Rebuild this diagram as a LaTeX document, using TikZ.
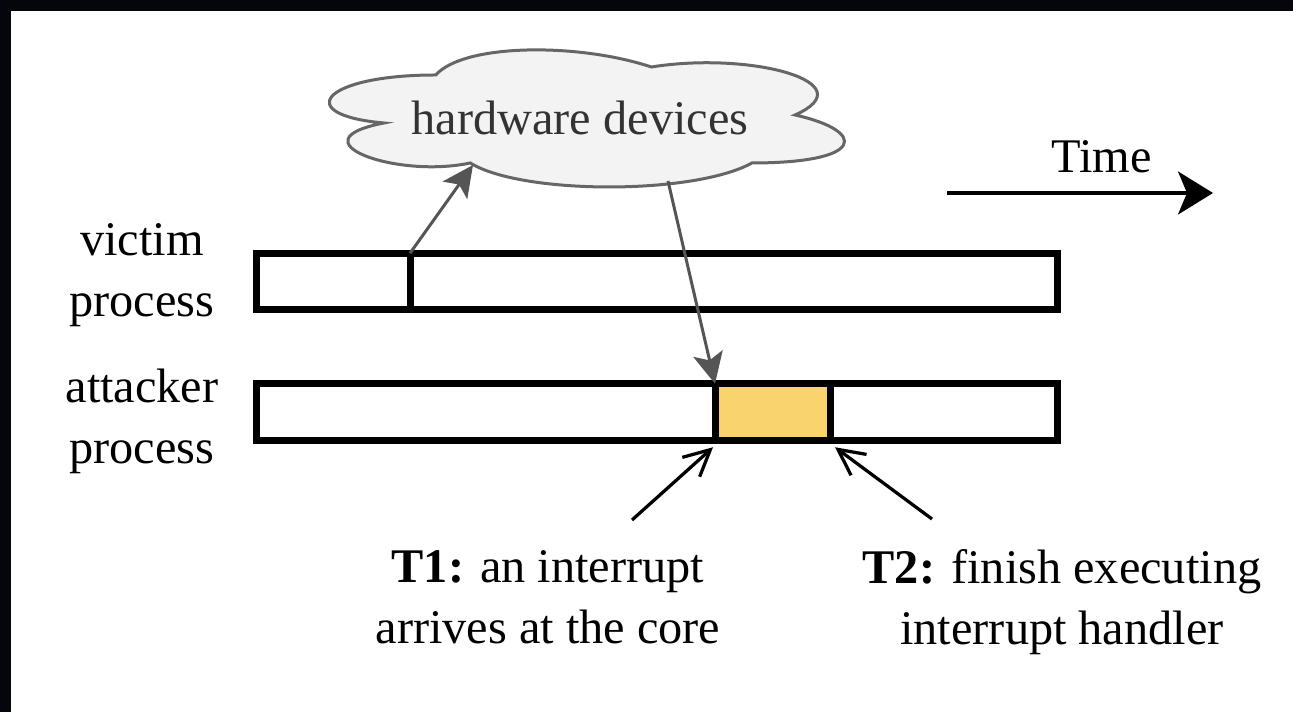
\documentclass[tikz,border=0pt]{standalone}
\usepackage{fontspec}
\setmainfont{Liberation Serif}
\usepackage{xcolor}
\usepackage{tikz}
\usetikzlibrary{calc, positioning, arrows.meta}

\definecolor{khungnen}{HTML}{04060B}
\definecolor{nenmay}{HTML}{F3F3F3}
\definecolor{vienmay}{HTML}{666666}
\definecolor{chumay}{HTML}{333333}
\definecolor{muixam}{HTML}{555555}
\definecolor{vangngat}{HTML}{F8D36E}

\begin{document}
\begin{tikzpicture}[x=0.02cm, y=-0.02cm,
    chu/.style={font=\fontsize{27.5}{34.6}\selectfont, align=center, inner sep=0pt},
    thanh/.style={draw, line width=0.14cm, fill=white, inner sep=0pt, outer sep=0pt,
        minimum width=16.04cm, minimum height=1.13cm},
    xam/.style={draw=muixam, line width=0.06cm, -{Stealth[length=0.62cm, width=0.6cm, inset=0.14cm]}},
    moc/.style={line width=0.065cm, -{Straight Barb[length=0.52cm, width=0.52cm]}}]
    % Khung tối ở cạnh trái và cạnh trên
    \useasboundingbox (0,0) rectangle (1293,712);
    \fill[khungnen] (0,0) rectangle (1293,11);
    \fill[khungnen] (0,0) rectangle (11,712);

    % Đám mây thiết bị phần cứng
    \begin{scope}[shift={(292,35)}, x=11.5cm, y=-3.2cm]
        \draw[fill=nenmay, draw=vienmay, line width=0.06cm]
            (0.25,0.25) .. controls (0.05,0.25) and (0,0.5) .. (0.16,0.55)
            .. controls (0,0.66) and (0.18,0.9) .. (0.31,0.8)
            .. controls (0.4,1) and (0.7,1) .. (0.8,0.8)
            .. controls (1,0.8) and (1,0.6) .. (0.875,0.5)
            .. controls (1,0.3) and (0.8,0.1) .. (0.625,0.2)
            .. controls (0.5,0.05) and (0.3,0.05) .. cycle;
    \end{scope}
    \node[chu, text=chumay] (thietbi) at (580,118) {hardware devices};

    % Hai thanh tiến trình
    \node[thanh] (nannhan) at (657,281.5) {};
    \node[thanh] (tancong) at (657,412) {};
    \node[thanh, fill=vangngat, minimum width=2.3cm] (ngat) at (772.5,412) {};
    \coordinate (tach) at (410,281.5);
    \draw[line width=0.14cm] (tach |- nannhan.north) -- (tach |- nannhan.south);

    \node[chu] (lbnannhan) at (142,275.5) {victim\\process};
    \node[chu] (lbtancong) at (142,421) {attacker\\process};

    % Mũi tên xám tới và từ đám mây
    \coordinate (mayduoi1) at (473,165);
    \coordinate (mayduoi2) at (668,181);
    \draw[xam] (tach |- nannhan.north) -- (mayduoi1);
    \draw[xam] (mayduoi2) -- (ngat.north west);

    % Trục thời gian
    \coordinate (tgdau) at (947,193);
    \coordinate (tgcuoi) at (1213,193);
    \draw[line width=0.065cm, -{Stealth[length=0.7cm, width=0.86cm, inset=0.18cm]}] (tgdau) -- (tgcuoi);
    \node[chu] (thoigian) at (1101.5,156.5) {Time};

    % Các mốc T1, T2
    \coordinate (goc1) at (632,520);
    \coordinate (goc2) at (932,519);
    \draw[moc] (goc1) -- ($(ngat.south west)+(-2,7)$);
    \draw[moc] (goc2) -- ($(ngat.south east)+(5,7)$);
    \node[chu] (t1) at (548,597.5) {\textbf{T1:} an interrupt\\arrives at the core};
    \node[chu] (t2) at (1062,602.5) {\textbf{T2:} finish executing\\interrupt handler};
\end{tikzpicture}
\end{document}
